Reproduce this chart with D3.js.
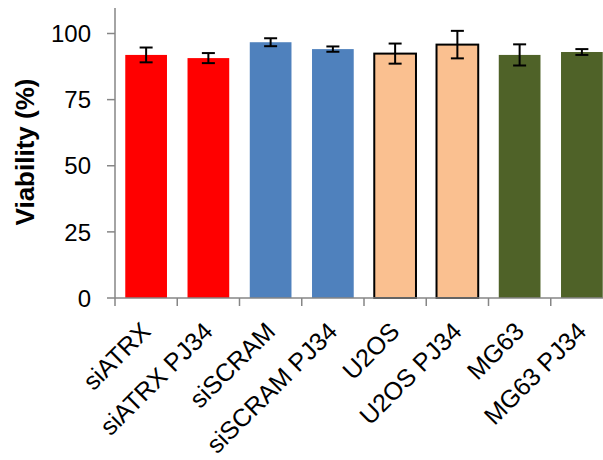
<!DOCTYPE html>
<html lang="en">
<head>
  <meta charset="UTF-8" />
  <title>Viability</title>
  <script src="https://d3js.org/d3.v7.min.js"></script>
  <style>
    body { margin: 0; background: #fff; }
    text { font-family: "Liberation Sans", Arial, sans-serif; }
  </style>
</head>
<body>
  <svg id="chart" width="603" height="460"></svg>
  <script>
    const categories = ["siATRX", "siATRX PJ34", "siSCRAM", "siSCRAM PJ34", "U2OS", "U2OS PJ34", "MG63", "MG63 PJ34"];
    const values = [91.9, 90.7, 96.7, 94.1, 92.4, 95.8, 91.9, 93.0];
    const errors = [2.8, 1.9, 1.5, 1.0, 3.8, 5.2, 4.0, 1.1];
    const colors = ["#ff0000", "#ff0000", "#4f81bd", "#4f81bd", "#fac090", "#fac090", "#4f6228", "#4f6228"];
    const outlined = [false, false, false, false, true, true, false, false];
    const yTicks = [0, 25, 50, 75, 100];

    const svg = d3.select("#chart");
    const plotLeft = 115, plotRight = 613, plotTop = 8, plotBottom = 298;

    const x = d3.scaleBand().domain(categories).range([plotLeft, plotRight]).paddingInner(0.33).paddingOuter(0.165);
    const y = d3.scaleLinear().domain([0, 100]).range([plotBottom, 33.5]);
    const yMax = y.invert(plotTop);

    const axisColor = "#868686";

    // bars
    svg.selectAll(".bar")
      .data(categories)
      .enter()
      .append("rect")
      .attr("x", (d) => x(d))
      .attr("y", (d, i) => y(values[i]))
      .attr("width", x.bandwidth())
      .attr("height", (d, i) => y(0) - y(values[i]))
      .attr("fill", (d, i) => colors[i])
      .attr("stroke", (d, i) => (outlined[i] ? "#000" : "none"))
      .attr("stroke-width", 2);

    // error bars
    const err = svg.selectAll(".err").data(categories).enter().append("g");
    const cx = (d) => x(d) + x.bandwidth() / 2;
    err.append("line")
      .attr("x1", cx).attr("x2", cx)
      .attr("y1", (d, i) => y(values[i] + errors[i]))
      .attr("y2", (d, i) => y(values[i] - errors[i]))
      .attr("stroke", "#000").attr("stroke-width", 2);
    [1, -1].forEach((s) => {
      err.append("line")
        .attr("x1", (d) => cx(d) - 6.5).attr("x2", (d) => cx(d) + 6.5)
        .attr("y1", (d, i) => y(values[i] + s * errors[i]))
        .attr("y2", (d, i) => y(values[i] + s * errors[i]))
        .attr("stroke", "#000").attr("stroke-width", 2);
    });

    // y axis
    svg.append("line")
      .attr("x1", plotLeft).attr("x2", plotLeft)
      .attr("y1", y(yMax)).attr("y2", plotBottom)
      .attr("stroke", axisColor).attr("stroke-width", 1.5);
    svg.selectAll(".ytick").data(yTicks).enter().append("line")
      .attr("x1", plotLeft - 8).attr("x2", plotLeft)
      .attr("y1", (d) => y(d)).attr("y2", (d) => y(d))
      .attr("stroke", axisColor).attr("stroke-width", 1.5);
    svg.selectAll(".ylab").data(yTicks).enter().append("text")
      .attr("x", plotLeft - 24)
      .attr("y", (d) => y(d))
      .attr("dy", "0.36em")
      .attr("text-anchor", "end")
      .attr("font-size", 24)
      .attr("fill", "#000")
      .text((d) => d);

    svg.append("text")
      .attr("transform", "translate(34, 152) rotate(-90)")
      .attr("text-anchor", "middle")
      .attr("font-size", 26)
      .attr("font-weight", "bold")
      .text("Viability (%)");

    // x axis
    svg.append("line")
      .attr("x1", plotLeft).attr("x2", plotRight)
      .attr("y1", plotBottom).attr("y2", plotBottom)
      .attr("stroke", axisColor).attr("stroke-width", 1.5);
    const step = x.step();
    svg.selectAll(".xtick").data(d3.range(categories.length + 1)).enter().append("line")
      .attr("x1", (i) => plotLeft + i * step).attr("x2", (i) => plotLeft + i * step)
      .attr("y1", plotBottom).attr("y2", plotBottom + 8)
      .attr("stroke", axisColor).attr("stroke-width", 1.5);

    svg.selectAll(".xlab").data(categories).enter().append("text")
      .attr("transform", (d) => `translate(${cx(d) + 6}, ${plotBottom + 35}) rotate(-45)`)
      .attr("text-anchor", "end")
      .attr("font-size", 25)
      .attr("fill", "#000")
      .text((d) => d);
  </script>
</body>
</html>
